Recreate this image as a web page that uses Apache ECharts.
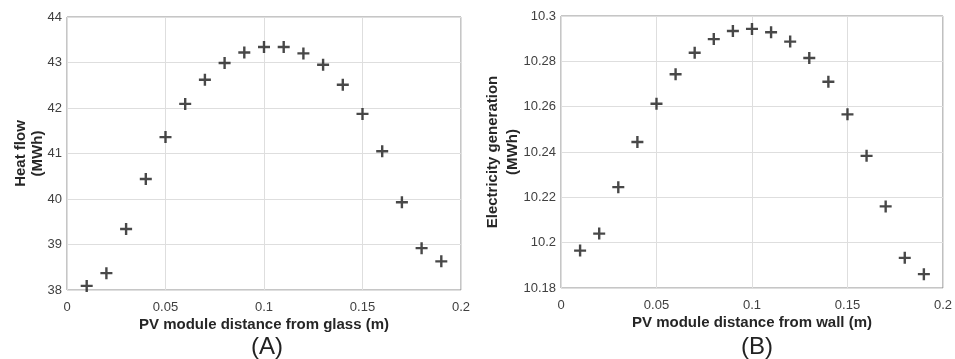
<!DOCTYPE html>
<html>
<head>
<meta charset="utf-8">
<script src="https://cdn.jsdelivr.net/npm/echarts@6/dist/echarts.min.js"></script>
<style>
html,body{margin:0;padding:0;background:#fff;}
#chart{width:955px;height:359px;}
</style>
</head>
<body>
<div id="chart"></div>
<script>
const distances = [0.01,0.02,0.03,0.04,0.05,0.06,0.07,0.08,0.09,0.10,0.11,0.12,0.13,0.14,0.15,0.16,0.17,0.18,0.19];
const heatFlow = [38.09,38.37,39.34,40.44,41.36,42.09,42.62,42.99,43.22,43.34,43.34,43.20,42.95,42.51,41.87,41.05,39.93,38.92,38.63];
const electricity = [10.1965,10.204,10.2245,10.2444,10.2613,10.2743,10.2838,10.2898,10.2934,10.2943,10.2928,10.2887,10.2815,10.2710,10.2566,10.2383,10.2160,10.1933,10.1861];
const xTicks = [0,0.05,0.1,0.15,0.2];
const heatTicks = [38,39,40,41,42,43,44];
const elecTicks = [10.18,10.2,10.22,10.24,10.26,10.28,10.3];

const plus = 'path://M4,0H6V4H10V6H6V10H4V6H0V4H4Z';
const font = 'Liberation Sans, Arial, sans-serif';
const chart = echarts.init(document.getElementById('chart'), null, {renderer:'canvas'});

function xAxisCfg(grid, name){
  return {
    gridIndex: grid, type:'value', min: xTicks[0], max: xTicks[xTicks.length-1], interval: 0.05,
    name: name, nameLocation:'middle', nameGap: 27, nameMoveOverlap: false,
    nameTextStyle:{fontFamily:font, fontSize:15, fontWeight:'bold', color:'#262626'},
    axisLine:{show:false}, axisTick:{show:false},
    axisLabel:{fontFamily:font, fontSize:13, color:'#404040', margin:11,
      formatter: v => String(parseFloat(v.toFixed(2)))},
    splitLine:{show:true, lineStyle:{color:'#dedede', width:1}}
  };
}
function yAxisCfg(grid, name, ticks, gap, lh){
  return {
    gridIndex: grid, type:'value', min: ticks[0], max: ticks[ticks.length-1],
    interval: parseFloat((ticks[1]-ticks[0]).toFixed(4)),
    name: name, nameLocation:'middle', nameGap: gap, nameRotate: 90, nameMoveOverlap: false,
    nameTextStyle:{fontFamily:font, fontSize:15, fontWeight:'bold', color:'#262626', lineHeight:lh},
    axisLine:{show:false}, axisTick:{show:false},
    axisLabel:{fontFamily:font, fontSize:13, color:'#404040', margin:5,
      formatter: v => String(parseFloat(v.toFixed(2)))},
    splitLine:{show:true, lineStyle:{color:'#dedede', width:1}}
  };
}

chart.setOption({
  animation:false,
  backgroundColor:'#fff',
  title:[
    {text:'(A)', left:262, top:330, textAlign:'center',
     textStyle:{fontFamily:font, fontSize:24, fontWeight:'normal', color:'#222'}},
    {text:'(B)', left:752, top:330, textAlign:'center',
     textStyle:{fontFamily:font, fontSize:24, fontWeight:'normal', color:'#222'}}
  ],
  grid:[
    {left:67, right:494, top:17, bottom:69, show:true, borderColor:'#8c8c8c', borderWidth:1, backgroundColor:'transparent'},
    {left:561, right:11, top:16, bottom:71, show:true, borderColor:'#8c8c8c', borderWidth:1, backgroundColor:'transparent'}
  ],
  xAxis:[ xAxisCfg(0,'PV module distance from glass (m)'), xAxisCfg(1,'PV module distance from wall (m)') ],
  yAxis:[ yAxisCfg(0,'Heat flow\n(MWh)', heatTicks, 21, 17), yAxisCfg(1,'Electricity generation\n(MWh)', elecTicks, 38, 20) ],
  series:[
    {type:'scatter', xAxisIndex:0, yAxisIndex:0, symbol:plus, symbolSize:12,
     itemStyle:{color:'#1a1a1a'}, data: distances.map((d,i)=>[d, heatFlow[i]])},
    {type:'scatter', xAxisIndex:1, yAxisIndex:1, symbol:plus, symbolSize:12,
     itemStyle:{color:'#1a1a1a'}, data: distances.map((d,i)=>[d, electricity[i]])}
  ]
});
</script>
</body>
</html>
